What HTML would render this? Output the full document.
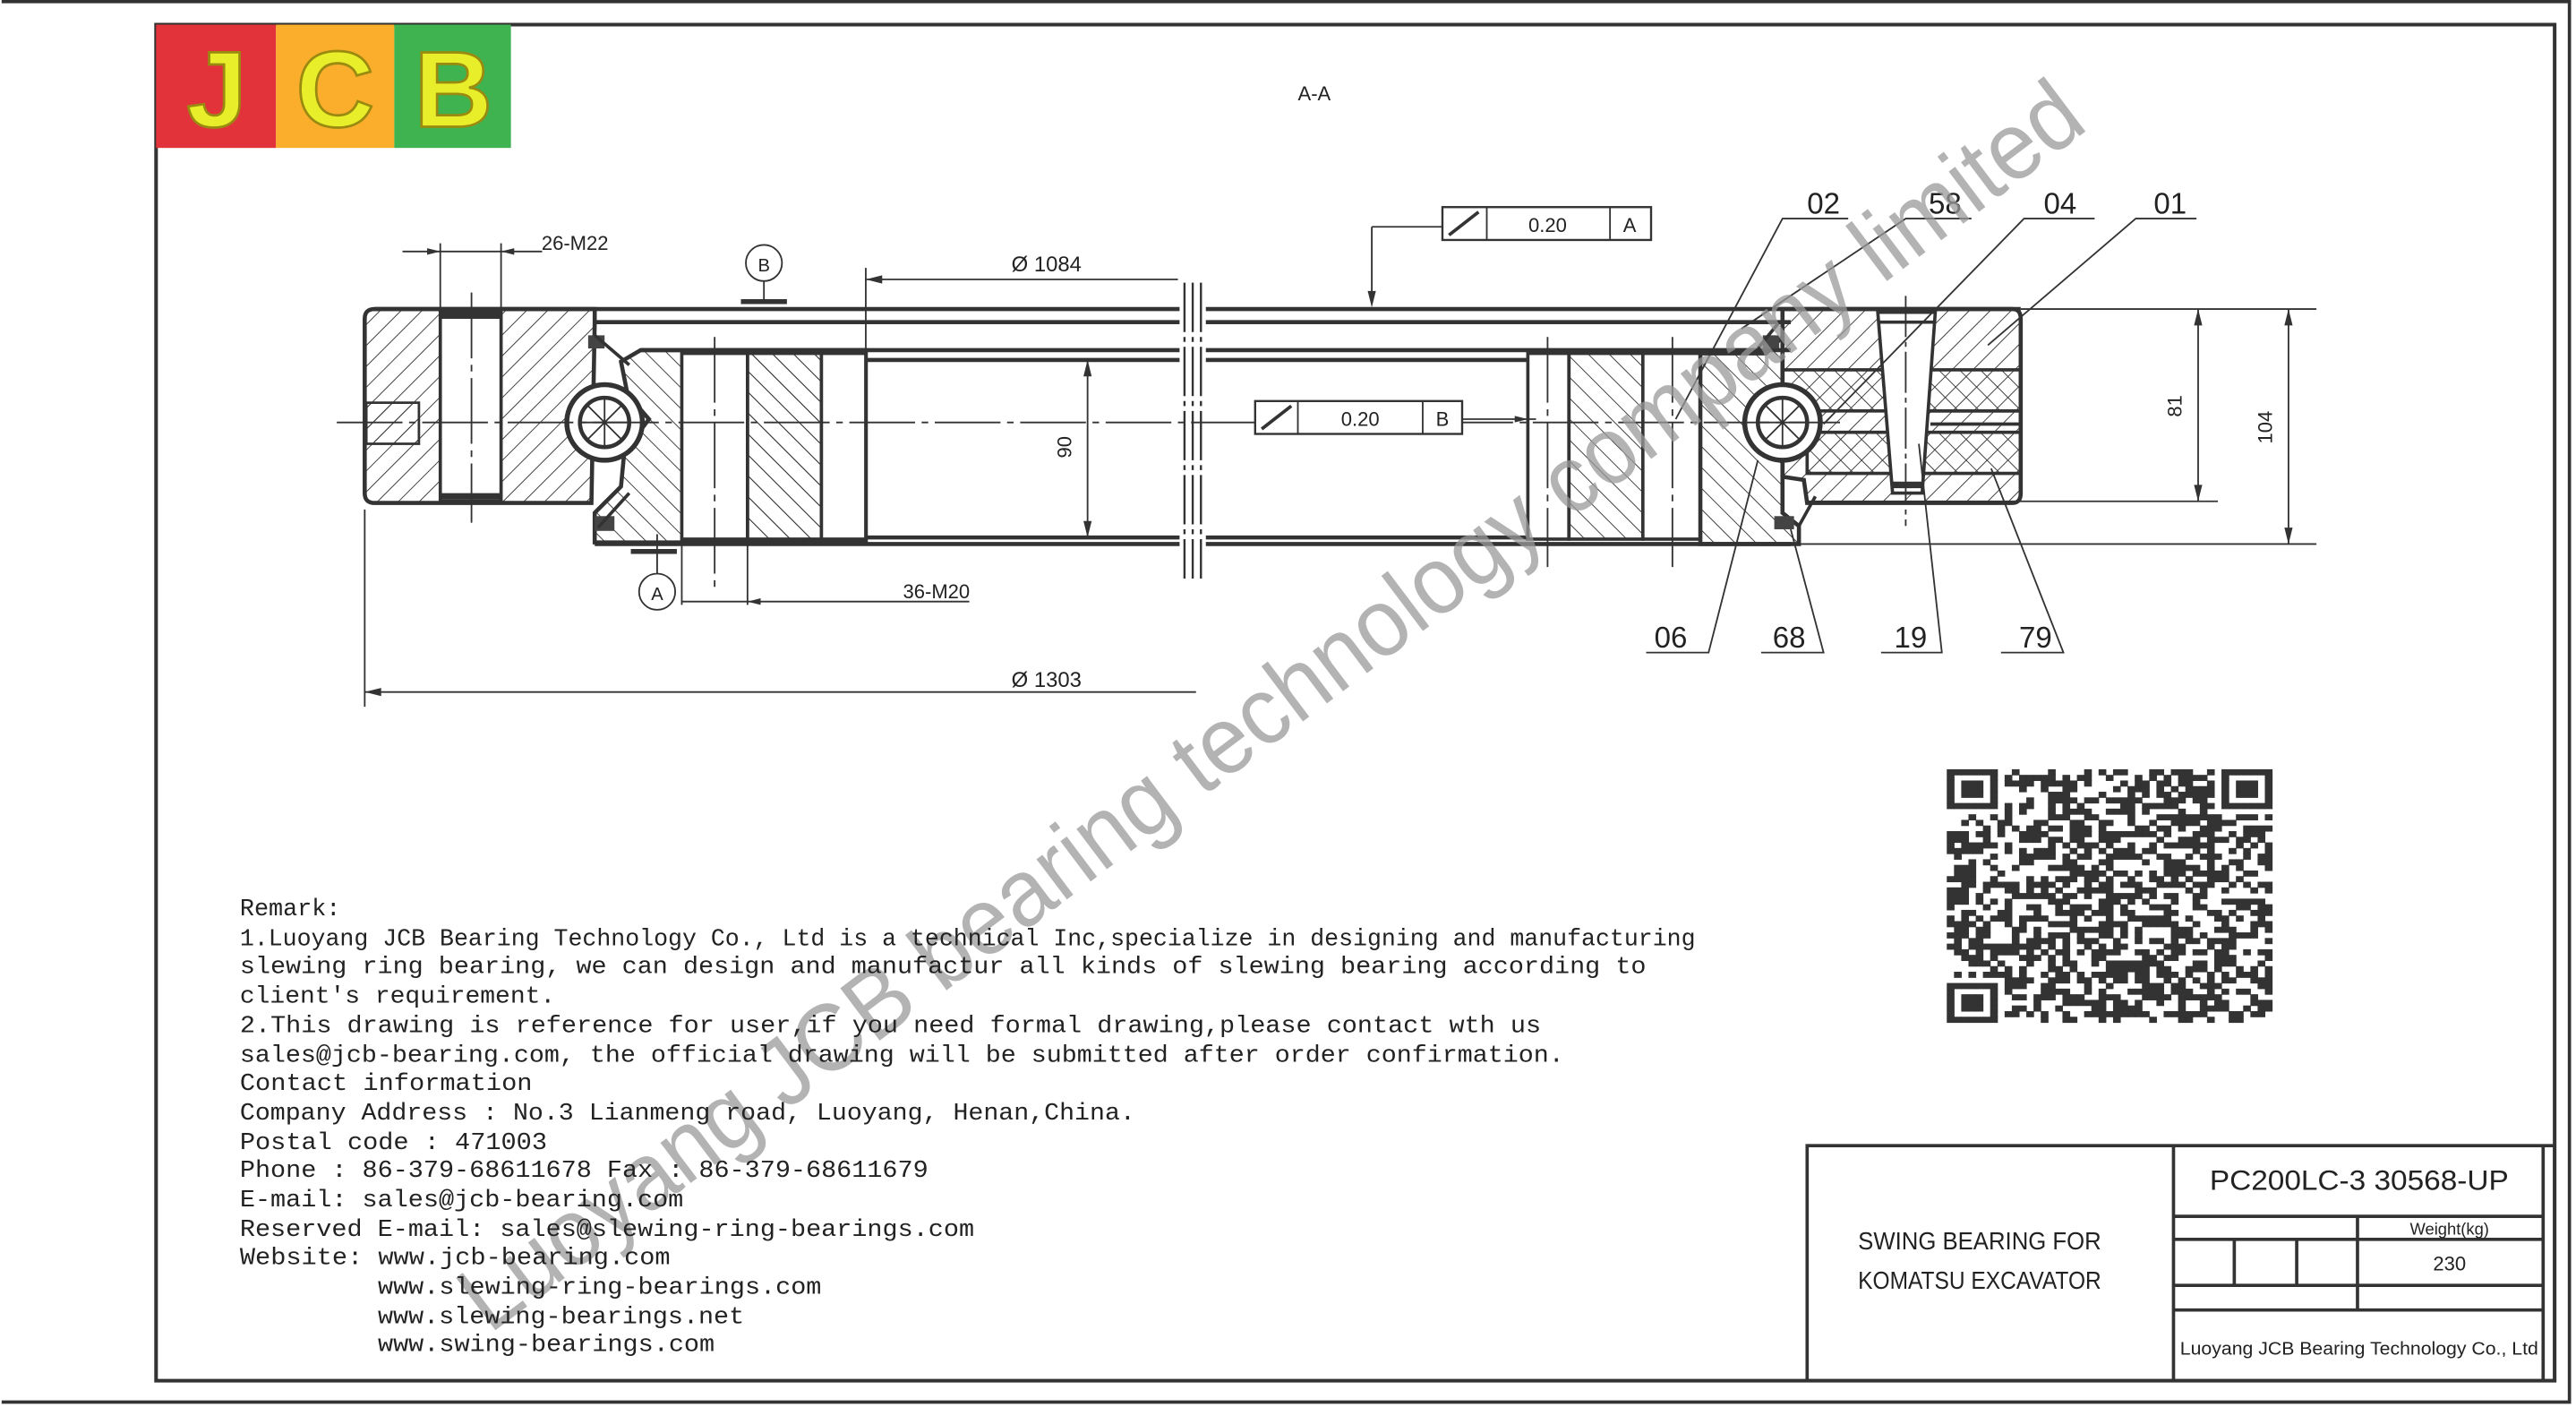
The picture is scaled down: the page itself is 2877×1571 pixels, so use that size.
<!DOCTYPE html>
<html><head><meta charset="utf-8"><style>
html,body{margin:0;padding:0;background:#fff;width:2877px;height:1571px;overflow:hidden}
svg{display:block}
.t{font-family:"Liberation Mono","DejaVu Sans Mono",monospace;font-size:14.6px;fill:#222}
.n{font-family:"Liberation Sans Narrow","Liberation Sans",sans-serif;fill:#222}
</style></head><body>
<svg width="2877" height="1571" viewBox="0 0 1568 856" preserveAspectRatio="none" xmlns="http://www.w3.org/2000/svg">
<defs>
<pattern id="hb" width="9" height="9" patternUnits="userSpaceOnUse" patternTransform="rotate(45)"><line x1="0" y1="0" x2="0" y2="9" stroke="#333" stroke-width="1"/></pattern>
<pattern id="hf" width="9" height="9" patternUnits="userSpaceOnUse" patternTransform="rotate(-45)"><line x1="0" y1="0" x2="0" y2="9" stroke="#333" stroke-width="1"/></pattern>
</defs>
<rect width="1568" height="856" fill="#fff"/>
<path d="M1 1 H1564 V853 H1" fill="none" stroke="#333" stroke-width="2"/>
<path d="M95 15 H1555 V840 H95 Z" fill="none" stroke="#333" stroke-width="2.2"/>
<rect x="95" y="15" width="73" height="75" fill="#e2333a"/>
<rect x="168" y="15" width="72" height="75" fill="#fbae2c"/>
<rect x="240" y="15" width="71" height="75" fill="#3fb34f"/>
<g font-family="Liberation Sans,sans-serif" font-weight="bold" font-size="66" fill="#e8ef2a" stroke="#9a8a10" stroke-width="1.5" text-anchor="middle">
<text x="132" y="77">J</text><text x="204" y="77">C</text><text x="276" y="77">B</text></g>
<text x="800" y="61" class="n" font-size="12" text-anchor="middle">A-A</text>

<g stroke="#333" fill="none">
<path d="M228 188 H362 V196 L360 306 H228 Q222 306 222 300 V194 Q222 188 228 188Z" fill="url(#hb)" stroke-width="2.5"/>
<rect x="268" y="190" width="37" height="115" fill="#fff" stroke-width="2"/>
<line x1="268" y1="192" x2="305" y2="192" stroke-width="4"/><line x1="268" y1="302" x2="305" y2="302" stroke-width="4"/>
<rect x="223" y="245" width="32" height="25" fill="url(#hb)" stroke-width="1.5"/>
<path d="M390 213 H527 V330 H362 V312 L378 296 L380 275 L395 255 L382 240 L378 220 Z" fill="url(#hf)" stroke-width="2.5"/>
<rect x="415" y="215" width="40" height="113" fill="#fff" stroke-width="2"/>
<rect x="455" y="215" width="45" height="113" fill="url(#hf)" stroke-width="2"/>
<rect x="500" y="215" width="27" height="113" fill="#fff" stroke-width="2"/>
<line x1="228" y1="188" x2="1230" y2="188" stroke-width="2.5"/>
<line x1="362" y1="196" x2="1090" y2="196" stroke-width="2.5"/>
<line x1="390" y1="213" x2="1090" y2="213" stroke-width="2.5"/>
<line x1="527" y1="219" x2="930" y2="219" stroke-width="2.5"/>
<line x1="527" y1="327" x2="930" y2="327" stroke-width="2.5"/>
<line x1="362" y1="331" x2="1090" y2="331" stroke-width="2.5"/>
<rect x="718" y="175" width="16" height="175" fill="#fff" stroke="none"/>
<path d="M721 172 V352 M726 172 V352 M731 172 V352" stroke-width="1.3" stroke-dasharray="30 3 3 3"/>
<rect x="930" y="215" width="25" height="113" fill="#fff" stroke-width="2"/>
<rect x="955" y="215" width="45" height="113" fill="url(#hf)" stroke-width="2"/>
<rect x="1000" y="215" width="35" height="113" fill="#fff" stroke-width="2"/>
<path d="M1035 215 H1075 L1085 205 V240 L1070 255 L1085 270 V312 L1095 320 V331 H1035 Z" fill="url(#hf)" stroke-width="2.5"/>
<path d="M1085 188 H1225 Q1230 188 1230 194 V300 Q1230 306 1225 306 H1100 L1098 292 L1085 290 V270 L1100 255 L1085 240 Z" fill="url(#hb)" stroke-width="2.5"/>
<rect x="1085" y="225" width="145" height="25" fill="url(#hf)" stroke-width="2"/>
<rect x="1100" y="263" width="130" height="25" fill="url(#hf)" stroke-width="2"/>
<line x1="1175" y1="250" x2="1230" y2="250" stroke-width="2"/><line x1="1175" y1="258" x2="1230" y2="258" stroke-width="2"/>
<path d="M1143 190 L1178 190 L1170 300 L1152 300 Z" fill="#fff" stroke-width="2"/>
<line x1="1143" y1="196" x2="1178" y2="196" stroke-width="2"/><line x1="1152" y1="295" x2="1170" y2="295" stroke-width="4"/>
<line x1="1160" y1="180" x2="1160" y2="320" stroke-width="1" stroke-dasharray="25 3 3 3"/>
<circle cx="368" cy="257" r="23" fill="#fff" stroke-width="3"/><circle cx="368" cy="257" r="15" fill="#fff" stroke-width="2.5"/>
<path d="M357 246 L379 268 M357 268 L379 246 M353 257 H383 M368 242 V272" stroke-width="1"/>
<circle cx="1085" cy="257" r="23" fill="#fff" stroke-width="3"/><circle cx="1085" cy="257" r="15" fill="#fff" stroke-width="2.5"/>
<path d="M1074 246 L1096 268 M1074 268 L1096 246 M1070 257 H1100 M1085 242 V272" stroke-width="1"/>
<rect x="358" y="204" width="10" height="8" fill="#444" stroke="none"/><rect x="362" y="314" width="12" height="9" fill="#444" stroke="none"/>
<rect x="1073" y="204" width="10" height="8" fill="#444" stroke="none"/><rect x="1080" y="314" width="12" height="8" fill="#444" stroke="none"/>
<path d="M362 204 L383 222 M364 321 L383 300 M1083 196 L1070 212 M1095 320 L1105 302" stroke-width="2"/>
<line x1="205" y1="257" x2="1120" y2="257" stroke-width="1" stroke-dasharray="40 4 4 4"/>
<line x1="287" y1="178" x2="287" y2="318" stroke-width="1" stroke-dasharray="40 4 4 4"/>
<line x1="435" y1="205" x2="435" y2="360" stroke-width="1" stroke-dasharray="40 4 4 4"/>
<line x1="942" y1="205" x2="942" y2="345" stroke-width="1" stroke-dasharray="40 4 4 4"/>
<line x1="1018" y1="205" x2="1018" y2="345" stroke-width="1" stroke-dasharray="40 4 4 4"/>
<g stroke-width="1">
<line x1="268" y1="148" x2="268" y2="188"/><line x1="305" y1="148" x2="305" y2="188"/>
<line x1="245" y1="153" x2="330" y2="153"/>
<line x1="527" y1="163" x2="527" y2="213"/><line x1="527" y1="170" x2="717" y2="170"/>
<line x1="222" y1="310" x2="222" y2="430"/><line x1="222" y1="421" x2="728" y2="421"/>
<line x1="662" y1="219" x2="662" y2="327"/>
<line x1="455" y1="330" x2="455" y2="368"/><line x1="415" y1="330" x2="415" y2="368"/>
<line x1="415" y1="366" x2="590" y2="366"/>
<line x1="1230" y1="188" x2="1410" y2="188"/><line x1="1100" y1="305" x2="1350" y2="305"/><line x1="1090" y1="331" x2="1410" y2="331"/>
<line x1="1338" y1="188" x2="1338" y2="305"/><line x1="1393" y1="188" x2="1393" y2="331"/>
<line x1="835" y1="138" x2="835" y2="185"/><line x1="835" y1="138" x2="878" y2="138"/>
<line x1="890" y1="255" x2="935" y2="255"/>
<line x1="465" y1="170" x2="465" y2="183"/>
<line x1="400" y1="325" x2="400" y2="350"/>
</g>
<g fill="#333" stroke="none">
<path d="M268 153 l-8 -2 v4z M305 153 l8 -2 v4z M527 170 l10 -2.5 v5z M222 421 l10 -2.5 v5z M662 219 l-2.5 10 h5z M662 327 l-2.5 -10 h5z M1338 188 l-2.5 10 h5z M1338 305 l-2.5 -10 h5z M1393 188 l-2.5 10 h5z M1393 331 l-2.5 -10 h5z M835 187 l-2.5 -10 h5z M930 255 l-8 -2 v4z M455 366 l8 -2 v4z"/>
<rect x="451" y="182" width="28" height="3"/><rect x="384" y="334" width="28" height="3"/>
</g>
<circle cx="465" cy="160" r="11" fill="#fff"/><circle cx="400" cy="360" r="11" fill="#fff"/>
<rect x="878" y="126" width="127" height="20" fill="#fff" stroke-width="1.3"/><line x1="905" y1="126" x2="905" y2="146"/><line x1="980" y1="126" x2="980" y2="146"/>
<path d="M882 143 L900 129" stroke-width="2"/>
<rect x="764" y="244" width="126" height="20" fill="#fff" stroke-width="1.3"/><line x1="790" y1="244" x2="790" y2="264"/><line x1="866" y1="244" x2="866" y2="264"/>
<path d="M768 261 L786 247" stroke-width="2"/>
<g stroke-width="1">
<path d="M1125 133 H1085 L1020 255"/><path d="M1200 133 H1160 L1060 200"/><path d="M1275 133 H1232 L1110 258"/><path d="M1337 133 H1300 L1210 210"/>
<path d="M1002 397 H1040 L1070 280"/><path d="M1072 397 H1110 L1090 322"/><path d="M1145 397 H1182 L1168 270"/><path d="M1218 397 H1256 L1212 285"/>
</g>
</g>
<g class="n" text-anchor="middle">
<text x="350" y="152" font-size="12">26-M22</text>
<text x="637" y="165" font-size="13">Ø 1084</text>
<text x="637" y="418" font-size="13">Ø 1303</text>
<text x="570" y="364" font-size="12">36-M20</text>
<text x="465" y="165" font-size="11">B</text><text x="400" y="365" font-size="11">A</text>
<text x="942" y="141" font-size="12">0.20</text><text x="992" y="141" font-size="12">A</text>
<text x="828" y="259" font-size="12">0.20</text><text x="878" y="259" font-size="12">B</text>
<text transform="translate(652,272) rotate(-90)" font-size="12">90</text>
<text transform="translate(1328,247) rotate(-90)" font-size="12">81</text>
<text transform="translate(1383,260) rotate(-90)" font-size="12">104</text>
<g font-size="18"><text x="1110" y="130">02</text><text x="1184" y="130">58</text><text x="1254" y="130">04</text><text x="1321" y="130">01</text>
<text x="1017" y="394">06</text><text x="1089" y="394">68</text><text x="1163" y="394">19</text><text x="1239" y="394">79</text></g>
</g>
<text x="0" y="0" transform="translate(298,812) rotate(-37)" font-family="Liberation Sans,sans-serif" font-size="58" fill="#999" fill-opacity="0.75" textLength="1220" lengthAdjust="spacingAndGlyphs">Luoyang JCB bearing technology company limited</text>
<g class="t">
<text x="146" y="557">Remark:</text>
<text x="146" y="575" textLength="886" lengthAdjust="spacingAndGlyphs">1.Luoyang JCB Bearing Technology Co., Ltd is a technical Inc,specialize in designing and manufacturing</text>
<text x="146" y="592" textLength="856" lengthAdjust="spacingAndGlyphs">slewing ring bearing, we can design and manufactur all kinds of slewing bearing according to</text>
<text x="146" y="610" textLength="192" lengthAdjust="spacingAndGlyphs">client's requirement.</text>
<text x="146" y="628" textLength="792" lengthAdjust="spacingAndGlyphs">2.This drawing is reference for user,if you need formal drawing,please contact wth us</text>
<text x="146" y="646" textLength="806" lengthAdjust="spacingAndGlyphs">sales@jcb-bearing.com, the official drawing will be submitted after order confirmation.</text>
<text x="146" y="663" textLength="178" lengthAdjust="spacingAndGlyphs">Contact information</text>
<text x="146" y="681" textLength="545" lengthAdjust="spacingAndGlyphs">Company Address : No.3 Lianmeng road, Luoyang, Henan,China.</text>
<text x="146" y="699" textLength="187" lengthAdjust="spacingAndGlyphs">Postal code : 471003</text>
<text x="146" y="716" textLength="419" lengthAdjust="spacingAndGlyphs">Phone : 86-379-68611678 Fax : 86-379-68611679</text>
<text x="146" y="734" textLength="270" lengthAdjust="spacingAndGlyphs">E-mail: sales@jcb-bearing.com</text>
<text x="146" y="752" textLength="447" lengthAdjust="spacingAndGlyphs">Reserved E-mail: sales@slewing-ring-bearings.com</text>
<text x="146" y="769" textLength="262" lengthAdjust="spacingAndGlyphs">Website: www.jcb-bearing.com</text>
<text x="230" y="787" textLength="270" lengthAdjust="spacingAndGlyphs">www.slewing-ring-bearings.com</text>
<text x="230" y="805" textLength="223" lengthAdjust="spacingAndGlyphs">www.slewing-bearings.net</text>
<text x="230" y="822" textLength="205" lengthAdjust="spacingAndGlyphs">www.swing-bearings.com</text>
</g>
<g id="qr"></g>
<g stroke="#333" fill="none" stroke-width="2">
<rect x="1100" y="697" width="455" height="143"/>
<line x1="1323" y1="697" x2="1323" y2="840"/>
<line x1="1323" y1="740" x2="1548" y2="740"/>
<line x1="1323" y1="754" x2="1548" y2="754"/>
<line x1="1323" y1="782" x2="1548" y2="782"/>
<line x1="1323" y1="797" x2="1548" y2="797"/>
<line x1="1435" y1="740" x2="1435" y2="797"/>
<line x1="1360" y1="754" x2="1360" y2="782"/><line x1="1398" y1="754" x2="1398" y2="782"/>
<line x1="1548" y1="697" x2="1548" y2="840"/>
</g>
<g class="n" text-anchor="middle" fill="#222">
<text x="1205" y="760" font-size="15" textLength="148" lengthAdjust="spacingAndGlyphs">SWING BEARING FOR</text>
<text x="1205" y="784" font-size="15" textLength="148" lengthAdjust="spacingAndGlyphs">KOMATSU EXCAVATOR</text>
<text x="1436" y="724" font-size="17" textLength="182" lengthAdjust="spacingAndGlyphs">PC200LC-3 30568-UP</text>
<text x="1491" y="751" font-size="10">Weight(kg)</text>
<text x="1491" y="773" font-size="12">230</text>
<text x="1436" y="824" font-size="11" textLength="218" lengthAdjust="spacingAndGlyphs">Luoyang JCB Bearing Technology Co., Ltd</text>
</g>
</svg>
<script>
(function(){var g=document.getElementById('qr'),N=45,x0=1185,y0=468,w=198/N,h=154/N,s=12345,o='';
function r(){s=(s*1103515245+12345)%2147483648;return s/2147483648;}
function fp(i,j){var a=[[0,0],[N-7,0],[0,N-7]];for(var k=0;k<3;k++){var di=i-a[k][0],dj=j-a[k][1];if(di>=-1&&di<=7&&dj>=-1&&dj<=7){if(di<0||dj<0||di>6||dj>6)return 0;if(di==0||dj==0||di==6||dj==6)return 1;if(di==1||dj==1||di==5||dj==5)return 0;return 1;}}return -1;}
for(var j=0;j<N;j++)for(var i=0;i<N;i++){var f=fp(i,j);var on=f<0?(r()<0.52):f;if(on)o+='<rect x="'+(x0+i*w).toFixed(2)+'" y="'+(y0+j*h).toFixed(2)+'" width="'+(w+0.3).toFixed(2)+'" height="'+(h+0.3).toFixed(2)+'" fill="#333"/>';}
g.innerHTML=o;})();
</script>
</body></html>
